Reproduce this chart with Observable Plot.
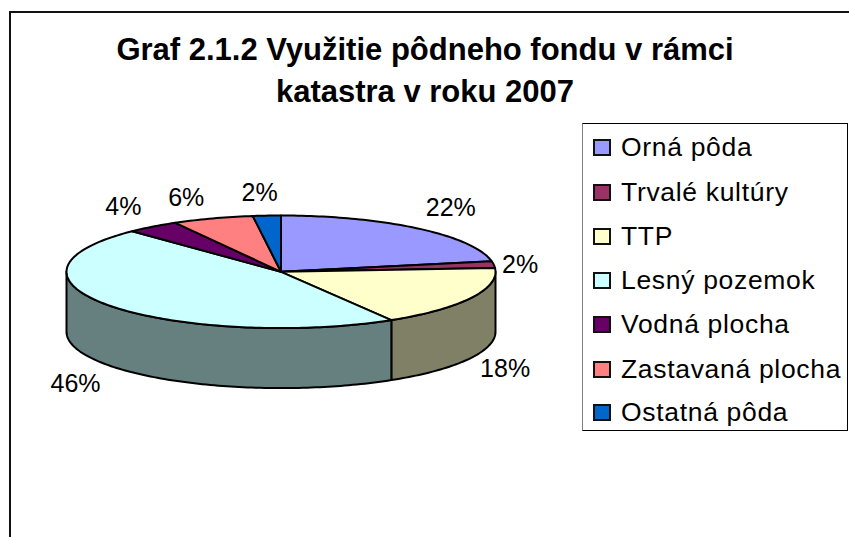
<!DOCTYPE html>
<html>
<head>
<meta charset="utf-8">
<script src="https://cdn.jsdelivr.net/npm/d3@7"></script>
<script src="https://cdn.jsdelivr.net/npm/@observablehq/plot@0.6"></script>
<style>
html,body{margin:0;padding:0;background:#fff;}
#chart{position:relative;width:849px;height:537px;overflow:hidden;font-family:"Liberation Sans",Arial,sans-serif;color:#000;}
#frame{position:absolute;left:9px;top:11px;width:840px;height:526px;border-left:2px solid #111;border-top:2px solid #111;box-sizing:border-box;}
#title{position:absolute;left:9px;width:832px;top:29px;text-align:center;font-weight:bold;font-size:31px;line-height:42px;}
#legend{position:absolute;left:582px;top:123px;width:266px;height:308px;box-sizing:border-box;border:1px solid #000;border-left-color:#808080;background:#fff;}
.item{position:absolute;left:38px;font-size:26.5px;letter-spacing:0.68px;line-height:30px;white-space:nowrap;}
.swatch{position:absolute;left:10px;width:18px;height:17px;border:2px solid #111;box-sizing:border-box;}
svg{position:absolute;left:0;top:0;}
</style>
</head>
<body>
<div id="chart"><div id="frame"></div><div id="title">Graf 2.1.2 Využitie pôdneho fondu v rámci<br>katastra v roku 2007</div></div>
<script>
const categories = ["Orná pôda","Trvalé kultúry","TTP","Lesný pozemok","Vodná plocha","Zastavaná plocha","Ostatná pôda"];
const shares = [22, 1.9, 17.5, 46.4, 4, 6.1, 2.1];
const colors = ["#9999FF","#993366","#FFFFCC","#CCFFFF","#660066","#FF8080","#0066CC"];
const sideColors = ["#4D4D80","#4D1A33","#808066","#668080","#330033","#804040","#003366"];

// label placement (offset from the slice's rim midpoint, in unit-ellipse terms)
const labelNudgeX = [0.154, 0.123, 0.158, -0.164, -0.137, -0.124, -0.034];
const labelNudgeY = [0.362, 0.00, -1.266, -1.387, 0.352, 0.367, 0.40];

const cx = 280.5, cy = 271.3, rx = 214.5, ry = 56.3, depth = 60;
const thickness = depth / ry;

// cumulative shares → angle (clockwise from 12 o'clock)
const ang = p => p / 100 * 2 * Math.PI;
const cum = d3.cumsum(shares);
const starts = [0, ...cum.slice(0, -1)];

const rim = (a, drop = 0) => ({x: Math.sin(a), y: Math.cos(a) - drop});
function arc(a0, a1, drop = 0) {
  const n = Math.max(2, Math.ceil((a1 - a0) / 0.02));
  return d3.range(n + 1).map(i => rim(a0 + (a1 - a0) * i / n, drop));
}

// top faces
const topFaces = categories.flatMap((c, i) => {
  const pts = [{x: 0, y: 0}, ...arc(ang(starts[i]), ang(cum[i]))];
  return pts.map(p => ({...p, cat: c}));
});

// walls: only the portion of each slice on the near side of the ellipse
const walls = categories.map((c, i) => {
  const a0 = Math.max(ang(starts[i]), Math.PI / 2);
  const a1 = Math.min(ang(cum[i]), 3 * Math.PI / 2);
  if (a1 <= a0) return null;
  return {fill: sideColors[i], pts: [...arc(a0, a1), ...arc(a0, a1, thickness).reverse()]};
}).filter(Boolean);

const labels = categories.map((c, i) => {
  const p = rim(ang(starts[i] + shares[i] / 2));
  return {x: p.x + labelNudgeX[i], y: p.y + labelNudgeY[i], text: Math.round(shares[i]) + "%"};
});

const plot = Plot.plot({
  width: 849, height: 537,
  margin: 0,
  style: {background: "transparent", overflow: "visible"},
  x: {domain: [-1, 1], range: [cx - rx, cx + rx], axis: null},
  y: {domain: [-1, 1], range: [cy + ry, cy - ry], axis: null},
  color: {domain: categories, range: colors},
  marks: [
    ...walls.map(w => Plot.line(w.pts, {x: "x", y: "y", fill: w.fill, stroke: "#000", strokeWidth: 2, curve: "linear-closed", strokeLinejoin: "round"})),
    Plot.line(topFaces, {x: "x", y: "y", z: "cat", fill: "cat", stroke: "#000", strokeWidth: 2, curve: "linear-closed", strokeLinejoin: "round"}),
    Plot.text(labels, {x: "x", y: "y", text: "text", fontSize: 25, fontFamily: "Liberation Sans", fill: "#000", textAnchor: "middle", lineAnchor: "middle"})
  ]
});
const chart = document.getElementById("chart");
chart.insertBefore(plot, document.getElementById("frame"));

// legend
const legend = document.createElement("div");
legend.id = "legend";
const rowTops = [15, 60, 104, 148, 192, 237, 280];
categories.forEach((c, i) => {
  const s = document.createElement("div");
  s.className = "swatch"; s.style.top = rowTops[i] + "px"; s.style.background = colors[i];
  const t = document.createElement("div");
  t.className = "item"; t.style.top = (rowTops[i] - 7) + "px"; t.textContent = c;
  legend.append(s, t);
});
chart.append(legend);
</script>
</body>
</html>
